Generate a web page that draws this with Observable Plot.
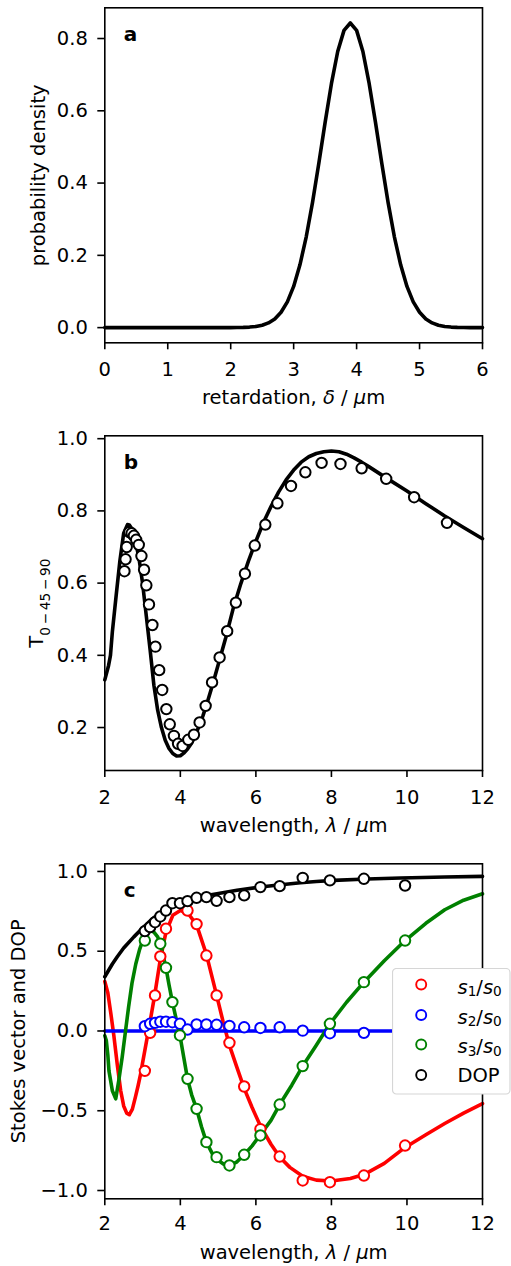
<!DOCTYPE html>
<html>
<head>
<meta charset="utf-8">
<script src="https://cdn.jsdelivr.net/npm/d3@7"></script>
<script src="https://cdn.jsdelivr.net/npm/@observablehq/plot@0.6"></script>
<style>
  html, body { margin: 0; padding: 0; background: #ffffff; }
  #fig { position: relative; width: 511px; height: 1266px; background: #ffffff; overflow: hidden; }
  #fig > svg { position: absolute; left: 0; }
</style>
</head>
<body>
<div id="fig"></div>
<script>
// ---------- Panel a: retardation distribution ----------
const retardation = [0, 1, 2.0, 2.1, 2.2, 2.3, 2.4, 2.5, 2.6, 2.7, 2.8, 2.9, 3.0, 3.1, 3.2, 3.3, 3.4, 3.5, 3.6, 3.7, 3.8, 3.9, 4.0, 4.1, 4.2, 4.3, 4.4, 4.5, 4.6, 4.7, 4.8, 4.9, 5.0, 5.1, 5.2, 5.3, 5.4, 5.5, 5.6, 5.7, 5.8, 5.9, 6.0];
const density = [0, 0, 0.0001, 0.0003, 0.0007, 0.0015, 0.0033, 0.0067, 0.013, 0.024, 0.0425, 0.0714, 0.114, 0.1737, 0.2514, 0.3466, 0.4547, 0.568, 0.675, 0.764, 0.8225, 0.843, 0.8225, 0.764, 0.675, 0.568, 0.4547, 0.3466, 0.2514, 0.1737, 0.114, 0.0714, 0.0425, 0.024, 0.013, 0.0067, 0.0033, 0.0015, 0.0007, 0.0003, 0.0001, 0, 0];
const retTicks = [0, 1, 2, 3, 4, 5, 6];
const densTicks = [0, 0.2, 0.4, 0.6, 0.8];

// ---------- Panel b: T(0-45-90) ----------
const bFitLambda = [2.0, 2.1, 2.15, 2.2, 2.3, 2.4, 2.5, 2.6, 2.65, 2.72, 2.8, 2.9, 3.0, 3.1, 3.2, 3.3, 3.4, 3.5, 3.6, 3.7, 3.8, 3.9, 4.0, 4.1, 4.2, 4.3, 4.4, 4.5, 4.6, 4.7, 4.8, 4.9, 5.0, 5.2, 5.4, 5.6, 5.8, 6.0, 6.2, 6.4, 6.6, 6.8, 7.0, 7.2, 7.4, 7.6, 7.8, 8.0, 8.2, 8.4, 8.6, 8.8, 9.0, 9.5, 10.0, 10.5, 11.0, 11.5, 12.0];
const bFitT = [0.332, 0.372, 0.40, 0.465, 0.565, 0.662, 0.738, 0.762, 0.761, 0.750, 0.722, 0.672, 0.600, 0.508, 0.415, 0.317, 0.248, 0.200, 0.165, 0.142, 0.128, 0.121, 0.122, 0.130, 0.142, 0.157, 0.180, 0.205, 0.233, 0.265, 0.300, 0.336, 0.373, 0.448, 0.530, 0.598, 0.660, 0.716, 0.768, 0.812, 0.852, 0.886, 0.913, 0.935, 0.950, 0.959, 0.964, 0.966, 0.964, 0.957, 0.947, 0.935, 0.922, 0.888, 0.855, 0.820, 0.786, 0.754, 0.723];
const bMeasLambda = [2.52, 2.55, 2.58, 2.65, 2.71, 2.77, 2.83, 2.90, 2.97, 3.04, 3.10, 3.17, 3.26, 3.34, 3.44, 3.52, 3.63, 3.72, 3.83, 3.94, 4.06, 4.21, 4.36, 4.51, 4.67, 4.84, 5.04, 5.24, 5.47, 5.71, 5.97, 6.25, 6.57, 6.93, 7.31, 7.74, 8.24, 8.80, 9.45, 10.19, 11.06];
const bMeasT = [0.633, 0.666, 0.700, 0.741, 0.738, 0.731, 0.720, 0.706, 0.675, 0.637, 0.594, 0.541, 0.484, 0.424, 0.359, 0.304, 0.251, 0.209, 0.177, 0.155, 0.149, 0.166, 0.180, 0.214, 0.260, 0.325, 0.394, 0.467, 0.546, 0.626, 0.704, 0.762, 0.821, 0.869, 0.907, 0.933, 0.930, 0.918, 0.889, 0.838, 0.767];
const wlTicks = [2, 4, 6, 8, 10, 12];
const tTicks = [0.2, 0.4, 0.6, 0.8, 1.0];

// ---------- Panel c: Stokes vector and DOP ----------
const s1FitLambda = [2.0, 2.08, 2.16, 2.24, 2.33, 2.42, 2.50, 2.58, 2.65, 2.73, 2.81, 2.88, 2.95, 3.0, 3.1, 3.2, 3.32, 3.47, 3.62, 3.8, 4.0, 4.2, 4.43, 4.69, 4.96, 5.13, 5.30, 5.5, 5.69, 5.9, 6.12, 6.4, 6.63, 6.9, 7.24, 7.6, 8.0, 8.5, 8.86, 9.4, 9.95, 10.5, 11.0, 11.5, 12.0];
const s1Fit = [0.31, 0.24, 0.11, -0.03, -0.21, -0.373, -0.47, -0.515, -0.525, -0.49, -0.415, -0.345, -0.268, -0.20, -0.07, 0.06, 0.223, 0.45, 0.62, 0.725, 0.755, 0.74, 0.665, 0.48, 0.225, 0.06, -0.09, -0.23, -0.36, -0.48, -0.595, -0.71, -0.79, -0.855, -0.91, -0.935, -0.94, -0.925, -0.90, -0.83, -0.73, -0.65, -0.58, -0.515, -0.455];
const s2FitLambda = [2.0, 12.0];
const s2Fit = [0, 0];
const s3FitLambda = [2.0, 2.04, 2.08, 2.11, 2.2, 2.29, 2.37, 2.46, 2.55, 2.63, 2.72, 2.82, 2.92, 3.0, 3.1, 3.2, 3.3, 3.4, 3.5, 3.62, 3.7, 3.79, 3.89, 3.99, 4.09, 4.19, 4.3, 4.43, 4.56, 4.69, 4.85, 5.0, 5.15, 5.3, 5.5, 5.69, 5.9, 6.12, 6.4, 6.63, 6.95, 7.24, 7.6, 7.96, 8.4, 8.86, 9.4, 9.95, 10.5, 11.0, 11.5, 12.0];
const s3Fit = [-0.03, -0.06, -0.15, -0.25, -0.375, -0.425, -0.31, -0.164, 0.003, 0.15, 0.30, 0.42, 0.51, 0.565, 0.61, 0.63, 0.62, 0.59, 0.52, 0.396, 0.29, 0.181, 0.075, -0.028, -0.165, -0.30, -0.40, -0.488, -0.60, -0.697, -0.77, -0.81, -0.835, -0.845, -0.82, -0.776, -0.72, -0.650, -0.56, -0.461, -0.34, -0.22, -0.09, 0.045, 0.18, 0.306, 0.44, 0.567, 0.675, 0.76, 0.82, 0.86];
const dopFitLambda = [2.0, 2.2, 2.33, 2.5, 2.77, 3.0, 3.21, 3.4, 3.65, 3.85, 4.09, 4.5, 4.97, 5.5, 6.12, 6.6, 7.18, 7.6, 8.06, 8.95, 9.83, 11.0, 12.0];
const dopFit = [0.34, 0.42, 0.465, 0.52, 0.59, 0.645, 0.693, 0.73, 0.766, 0.793, 0.818, 0.842, 0.86, 0.882, 0.902, 0.915, 0.929, 0.937, 0.944, 0.953, 0.959, 0.965, 0.969];

const cMeasLambda = [3.06, 3.20, 3.33, 3.47, 3.62, 3.79, 3.99, 4.19, 4.43, 4.69, 4.96, 5.30, 5.69, 6.12, 6.63, 7.24, 7.96, 8.86, 9.95];
const s1Meas = [-0.25, -0.012, 0.223, 0.467, 0.641, null, null, 0.755, 0.670, 0.473, 0.223, -0.074, -0.348, -0.615, -0.787, -0.937, -0.948, -0.906, -0.718];
const s2Meas = [0.030, 0.045, 0.051, 0.058, 0.058, 0.055, 0.045, 0.009, 0.041, 0.041, 0.039, 0.032, 0.023, 0.019, 0.023, 0.002, -0.014, -0.012, null];
const s3Meas = [0.567, null, null, 0.547, 0.396, 0.181, -0.028, -0.30, -0.488, -0.697, -0.791, -0.843, -0.776, -0.655, -0.461, -0.22, 0.045, 0.306, 0.567];
const dopMeas = [0.626, 0.651, 0.682, 0.718, 0.755, 0.801, 0.801, 0.814, 0.835, 0.839, 0.816, 0.839, 0.85, 0.902, 0.908, 0.96, 0.944, 0.954, 0.912];
const stokesTicks = [-1.0, -0.5, 0.0, 0.5, 1.0];

const seriesNames = ["s1/s0", "s2/s0", "s3/s0", "DOP"];
const seriesColors = ["#ff0000", "#0000ff", "#008000", "#000000"];

// ---------- helpers ----------
const FONT = "'DejaVu Sans', 'Liberation Sans', sans-serif";
const FS = 19.5;
const LW = 3.6;
const pairs = (xs, ys) => xs.map((x, i) => ({x, y: ys[i]})).filter(d => d.y != null);
const SVGNS = "http://www.w3.org/2000/svg";

function setRich(svg, aria, parts) {
  const g = svg.querySelector(`g[aria-label="${aria}"]`);
  if (!g) return;
  const t = g.querySelector("text");
  if (!t) return;
  while (t.firstChild) t.removeChild(t.firstChild);
  for (const p of parts) {
    if (typeof p === "string") t.appendChild(document.createTextNode(p));
    else {
      const ts = document.createElementNS(SVGNS, "tspan");
      ts.textContent = p.text;
      for (const [k, v] of Object.entries(p.attrs || {})) ts.setAttribute(k, v);
      t.appendChild(ts);
    }
  }
}
const it = s => ({text: s, attrs: {"font-style": "italic"}});

const common = {
  width: 511,
  marginLeft: 104.3,
  marginRight: 29,
  style: {fontFamily: FONT, fontSize: FS + "px", background: "transparent", overflow: "visible", color: "black"}
};
const panelLetter = s => Plot.text([s], {frameAnchor: "top-left", dx: 19, dy: 33, lineAnchor: "bottom", textAnchor: "start", fontWeight: "bold", fontSize: 20, fill: "black"});
const markerOpts = (color) => ({r: 5.2, stroke: color, fill: "white", strokeWidth: 2});

const fig = document.getElementById("fig");

// ---------- Panel a ----------
const svgA = Plot.plot({
  ...common,
  height: 420, marginTop: 7.3, marginBottom: 77.7,
  x: {domain: [0, 6]},
  y: {domain: [-0.042, 0.885]},
  marks: [
    Plot.line(pairs(retardation, density), {x: "x", y: "y", stroke: "black", strokeWidth: LW}),
    panelLetter("a"),
    Plot.axisX({ticks: retTicks, tickFormat: d3.format("d"), tickSize: 7, tickPadding: 12, strokeWidth: 1.6,
      label: "retardation, δ / μm", labelAnchor: "center", labelOffset: 61.5}),
    Plot.axisY({ticks: densTicks, tickFormat: d3.format(".1f"), tickSize: 7, tickPadding: 10, strokeWidth: 1.6,
      label: "probability density", labelAnchor: "center", labelOffset: 73.3}),
    Plot.frame({stroke: "black", strokeWidth: 1.6})
  ]
});
svgA.style.top = "0px";
setRich(svgA, "x-axis label", ["retardation, ", it("δ"), " / ", it("μ"), "m"]);
setRich(svgA, "y-axis label", ["probability density"]);
fig.appendChild(svgA);

// ---------- Panel b ----------
const svgB = Plot.plot({
  ...common,
  height: 420, marginTop: 15.3, marginBottom: 70,
  x: {domain: [2, 12]},
  y: {domain: [0.081, 1.008]},
  marks: [
    Plot.line(pairs(bFitLambda, bFitT), {x: "x", y: "y", stroke: "black", strokeWidth: LW}),
    Plot.dot(pairs(bMeasLambda, bMeasT), {x: "x", y: "y", ...markerOpts("black")}),
    panelLetter("b"),
    Plot.axisX({ticks: wlTicks, tickFormat: d3.format("d"), tickSize: 7, tickPadding: 12.5, strokeWidth: 1.6,
      label: "wavelength, λ / μm", labelAnchor: "center", labelOffset: 61}),
    Plot.axisY({ticks: tTicks, tickFormat: d3.format(".1f"), tickSize: 7, tickPadding: 10, strokeWidth: 1.6,
      label: "T", labelAnchor: "center", labelOffset: 75.6}),
    Plot.frame({stroke: "black", strokeWidth: 1.6})
  ]
});
svgB.style.top = "420px";
setRich(svgB, "x-axis label", ["wavelength, ", it("λ"), " / ", it("μ"), "m"]);
setRich(svgB, "y-axis label", ["T", {text: "0\u2009\u2212\u200945\u2009\u2212\u200990", attrs: {"font-size": "13.65px", dy: "7"}}]);
fig.appendChild(svgB);

// ---------- Panel c ----------
const fits = [
  [s1FitLambda, s1Fit], [s2FitLambda, s2Fit], [s3FitLambda, s3Fit], [dopFitLambda, dopFit]
];
const meas = [s1Meas, s2Meas, s3Meas, dopMeas];
const svgC = Plot.plot({
  ...common,
  height: 426, marginTop: 23.3, marginBottom: 67.7,
  x: {domain: [2, 12]},
  y: {domain: [-1.052, 1.048]},
  marks: [
    ...fits.map(([xs, ys], i) => Plot.line(pairs(xs, ys), {x: "x", y: "y", stroke: seriesColors[i], strokeWidth: LW})),
    ...meas.map((ys, i) => Plot.dot(pairs(cMeasLambda, ys), {x: "x", y: "y", ...markerOpts(seriesColors[i])})),
    panelLetter("c"),
    Plot.axisX({ticks: wlTicks, tickFormat: d3.format("d"), tickSize: 7, tickPadding: 10.1, strokeWidth: 1.6,
      label: "wavelength, λ / μm", labelAnchor: "center", labelOffset: 60.5}),
    Plot.axisY({ticks: stokesTicks, tickFormat: d3.format(".1f"), tickSize: 7, tickPadding: 10, strokeWidth: 1.6,
      label: "Stokes vector and DOP", labelAnchor: "center", labelOffset: 93.5}),
    Plot.frame({stroke: "black", strokeWidth: 1.6})
  ]
});
svgC.style.top = "840px";
setRich(svgC, "x-axis label", ["wavelength, ", it("λ"), " / ", it("μ"), "m"]);
setRich(svgC, "y-axis label", ["Stokes vector and DOP"]);
fig.appendChild(svgC);

// ---------- Legend (panel c) ----------
const leg = document.createElementNS(SVGNS, "svg");
leg.setAttribute("width", "119");
leg.setAttribute("height", "127");
leg.style.position = "absolute";
leg.style.left = "391.8px";
leg.style.top = "967.8px";
leg.style.fontFamily = FONT;
leg.style.fontSize = FS + "px";
const box = document.createElementNS(SVGNS, "rect");
Object.entries({x: 0.5, y: 0.5, width: 117.5, height: 125.5, rx: 4, ry: 4, fill: "white", stroke: "#d6d6d6", "stroke-width": 1.2})
  .forEach(([k, v]) => box.setAttribute(k, v));
leg.appendChild(box);
const rowsCy = [16.5, 47, 76.5, 107];
const rowsBase = [25.5, 55.5, 85, 114];
seriesNames.forEach((name, i) => {
  const c = document.createElementNS(SVGNS, "circle");
  Object.entries({cx: 29.2, cy: rowsCy[i], r: 5, fill: "white", stroke: seriesColors[i], "stroke-width": 1.9})
    .forEach(([k, v]) => c.setAttribute(k, v));
  leg.appendChild(c);
  const t = document.createElementNS(SVGNS, "text");
  t.setAttribute("x", 65.5);
  t.setAttribute("y", rowsBase[i]);
  t.setAttribute("fill", "black");
  if (name === "DOP") {
    t.textContent = "DOP";
  } else {
    const [num, den] = name.split("/");
    const add = (txt, attrs) => {
      const ts = document.createElementNS(SVGNS, "tspan");
      ts.textContent = txt;
      for (const [k, v] of Object.entries(attrs)) ts.setAttribute(k, v);
      t.appendChild(ts);
    };
    add("s", {"font-style": "italic"});
    add(num.slice(1), {"font-size": "13.65px", dy: "2.5"});
    add("/", {dy: "-2.5"});
    add("s", {"font-style": "italic"});
    add(den.slice(1), {"font-size": "13.65px", dy: "2.5"});
  }
  leg.appendChild(t);
});
fig.appendChild(leg);
</script>
</body>
</html>
